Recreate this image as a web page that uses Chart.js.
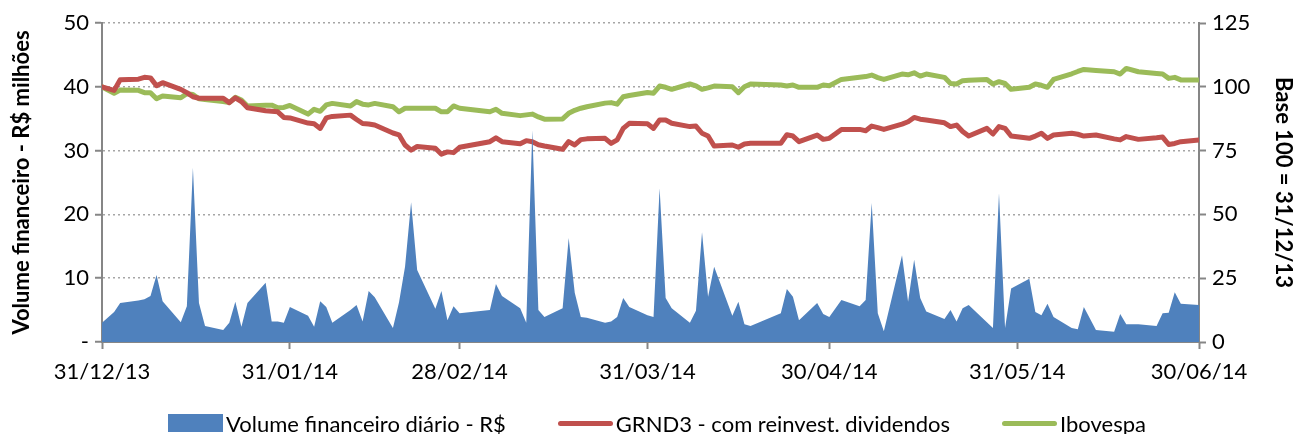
<!DOCTYPE html>
<html>
<head>
<meta charset="utf-8">
<script src="https://cdn.jsdelivr.net/npm/chart.js@4.4.1/dist/chart.umd.min.js"></script>
<style>
  html, body { margin: 0; padding: 0; background: #fff; }
  #wrap { position: relative; width: 1296px; height: 434px; }
  #legend {
    position: absolute; left: 0; top: 410px; width: 1296px; height: 26px;
    display: flex; justify-content: center; align-items: center;
    padding-left: 18px; box-sizing: border-box;
    font-family: Lato, sans-serif; font-size: 22px; color: #000;
  }
  .legend-item { display: flex; align-items: center; margin: 0 26px; white-space: nowrap; }
  .swatch { width: 55px; margin-right: 3px; }
  .swatch.area { height: 18px; }
  .swatch.line { height: 5px; border-radius: 3px; }
</style>
</head>
<body>
<div id="wrap">
  <canvas id="chart" width="1296" height="434"></canvas>
  <div id="legend"></div>
</div>
<script>
// trading sessions, 31/12/13 base day included
const tradingDays = [
  "2013-12-31",
  "2014-01-02", "2014-01-03", "2014-01-06", "2014-01-07", "2014-01-08", "2014-01-09", "2014-01-10",
  "2014-01-13", "2014-01-14", "2014-01-15", "2014-01-16", "2014-01-17", "2014-01-20", "2014-01-21",
  "2014-01-22", "2014-01-23", "2014-01-24", "2014-01-27", "2014-01-28", "2014-01-29", "2014-01-30", "2014-01-31",
  "2014-02-03", "2014-02-04", "2014-02-05", "2014-02-06", "2014-02-07", "2014-02-10", "2014-02-11",
  "2014-02-12", "2014-02-13", "2014-02-14", "2014-02-17", "2014-02-18", "2014-02-19", "2014-02-20",
  "2014-02-21", "2014-02-24", "2014-02-25", "2014-02-26", "2014-02-27", "2014-02-28",
  "2014-03-05", "2014-03-06", "2014-03-07", "2014-03-10", "2014-03-11", "2014-03-12", "2014-03-13",
  "2014-03-14", "2014-03-17", "2014-03-18", "2014-03-19", "2014-03-20", "2014-03-21", "2014-03-24",
  "2014-03-25", "2014-03-26", "2014-03-27", "2014-03-28", "2014-03-31",
  "2014-04-01", "2014-04-02", "2014-04-03", "2014-04-04", "2014-04-07", "2014-04-08", "2014-04-09",
  "2014-04-10", "2014-04-11", "2014-04-14", "2014-04-15", "2014-04-16", "2014-04-17", "2014-04-22",
  "2014-04-23", "2014-04-24", "2014-04-25", "2014-04-28", "2014-04-29", "2014-04-30",
  "2014-05-02", "2014-05-05", "2014-05-06", "2014-05-07", "2014-05-08", "2014-05-09", "2014-05-12",
  "2014-05-13", "2014-05-14", "2014-05-15", "2014-05-16", "2014-05-19", "2014-05-20", "2014-05-21",
  "2014-05-22", "2014-05-23", "2014-05-26", "2014-05-27", "2014-05-28", "2014-05-29", "2014-05-30",
  "2014-06-02", "2014-06-03", "2014-06-04", "2014-06-05", "2014-06-06", "2014-06-09", "2014-06-10",
  "2014-06-11", "2014-06-13", "2014-06-16", "2014-06-17", "2014-06-18", "2014-06-20", "2014-06-23",
  "2014-06-24", "2014-06-25", "2014-06-26", "2014-06-27", "2014-06-30"
];

// R$ milhões
const volume = [
  3.0,
  4.7, 6.1, 6.5, 6.7, 7.2, 10.5, 6.4, 3.1, 5.6, 27.3, 6.1, 2.5, 1.9, 3.0, 6.3, 2.4, 6.1, 9.3, 3.2, 3.2, 3.0, 5.5,
  4.1, 2.4, 6.4, 5.5, 3.0, 5.0, 5.8, 3.2, 8.0, 7.0, 2.2, 6.2, 11.8, 21.9, 11.3, 5.2, 8.0, 3.4, 5.6, 4.5,
  5.0, 9.1, 7.2, 5.3, 3.0, 33.2, 5.0, 3.9, 5.3, 16.3, 7.7, 3.9, 3.8, 3.0, 3.2, 3.9, 6.9, 5.5, 4.2,
  3.9, 24.1, 6.9, 5.3, 3.0, 4.9, 17.2, 7.1, 11.8, 4.1, 6.3, 2.8, 2.5, 4.5, 8.3, 7.1, 3.4, 6.1, 4.4, 3.9,
  6.6, 5.6, 6.6, 21.8, 4.5, 1.7, 13.6, 6.3, 12.9, 6.9, 4.8, 3.6, 5.0, 3.2, 5.3, 5.8, 3.1, 2.2, 23.3, 2.2, 8.4,
  9.9, 4.7, 4.2, 6.0, 3.9, 2.2, 2.0, 5.5, 1.9, 1.6, 4.4, 2.8, 2.8, 2.5, 4.5, 4.6, 7.8, 6.0, 5.8
];

// base 100 = 31/12/13
const grnd3 = [
  100,
  98.6, 102.8, 103.0, 103.7, 103.5, 100.4, 101.6, 99.0, 97.7, 96.1, 95.5, 95.5, 95.5, 93.8, 95.7, 94.2, 91.8, 90.6, 90.4, 90.2, 88.0, 87.8,
  85.8, 85.5, 83.7, 87.8, 88.4, 88.9, 87.2, 85.6, 85.4, 85.0, 81.9, 81.2, 77.2, 75.2, 76.6, 75.9, 73.6, 74.5, 74.2, 76.3,
  78.5, 80.0, 78.5, 77.7, 78.9, 78.5, 77.3, 76.8, 75.5, 78.5, 77.2, 79.3, 79.6, 79.8, 77.8, 79.2, 83.7, 85.7, 85.5,
  83.7, 87.0, 87.0, 85.7, 84.4, 84.6, 81.8, 80.7, 76.8, 77.2, 76.3, 77.6, 77.9, 77.9, 81.2, 80.7, 78.5, 81.1, 79.4, 79.8,
  83.3, 83.3, 82.8, 84.6, 84.0, 83.3, 85.4, 86.3, 88.0, 87.3, 87.0, 85.9, 84.4, 85.0, 82.5, 80.7, 83.7, 81.5, 84.4, 83.7, 80.7,
  79.8, 80.7, 81.8, 79.8, 81.1, 81.8, 81.4, 80.7, 81.1, 79.6, 79.2, 80.5, 79.4, 80.0, 80.3, 77.4, 77.8, 78.5, 79.2
];

const ibovespa = [
  100,
  97.5, 98.7, 98.6, 97.7, 97.7, 95.3, 96.4, 95.7, 97.3, 97.0, 95.3, 95.0, 94.2, 93.8, 95.9, 94.8, 92.5, 92.8, 92.8, 91.8, 91.9, 92.7,
  89.3, 91.2, 90.4, 92.9, 93.5, 92.5, 94.2, 93.2, 92.9, 93.5, 92.2, 90.2, 91.6, 91.6, 91.6, 91.6, 90.2, 90.2, 92.5, 91.6,
  90.2, 91.2, 89.6, 88.7, 89.0, 89.3, 88.2, 87.3, 87.4, 89.6, 90.8, 91.6, 92.2, 93.6, 93.8, 93.2, 96.1, 96.6, 97.8,
  97.5, 100.3, 99.8, 99.0, 101.1, 100.4, 99.0, 99.6, 100.3, 100.0, 97.7, 100.0, 101.1, 100.7, 100.3, 100.7, 99.8, 99.8, 100.7, 100.4,
  102.9, 103.7, 104.0, 104.6, 103.6, 102.9, 105.0, 104.7, 105.5, 104.2, 105.0, 103.7, 101.3, 101.1, 102.4, 102.6, 102.9, 101.1, 102.0, 101.3, 99.0,
  99.8, 101.1, 100.6, 99.8, 102.9, 105.1, 106.0, 106.8, 106.4, 105.9, 105.0, 107.2, 105.9, 105.2, 105.0, 103.3, 103.7, 102.7, 102.7
];

const tickDates = ["2013-12-31", "2014-01-31", "2014-02-28", "2014-03-31", "2014-04-30", "2014-05-31", "2014-06-30"];
const tickLabels = ["31/12/13", "31/01/14", "28/02/14", "31/03/14", "30/04/14", "31/05/14", "30/06/14"];

// x axis runs in days counted from 31/12/13
const base = Date.UTC(2013, 11, 31);
const dayOf = d => (Date.parse(d) - base) / 86400000;
const days = tradingDays.map(dayOf);
const tickDays = tickDates.map(dayOf);
const points = vals => vals.map((v, i) => ({ x: days[i], y: v }));

const axisColor = "#868686";
const tickFont = { family: "Lato", size: 22 };
const titleFont = { family: "Lato", size: 22, weight: "bold" };

Chart.defaults.font.family = "Lato";
Chart.defaults.color = "#000";

const chart = new Chart(document.getElementById("chart"), {
    type: "line",
    data: {
        datasets: [
            {
                label: "Volume financeiro diário - R$",
                data: points(volume),
                yAxisID: "y",
                fill: "origin",
                backgroundColor: "#4F81BD",
                borderColor: "#4F81BD",
                borderWidth: 0,
                pointRadius: 0,
                tension: 0,
            },
            {
                label: "GRND3 - com reinvest. dividendos",
                data: points(grnd3),
                yAxisID: "y1",
                borderColor: "#C0504D",
                borderWidth: 5,
                borderCapStyle: "round",
                borderJoinStyle: "round",
                pointRadius: 0,
                tension: 0,
                fill: false,
            },
            {
                label: "Ibovespa",
                data: points(ibovespa),
                yAxisID: "y1",
                borderColor: "#9BBB59",
                borderWidth: 5,
                borderCapStyle: "round",
                borderJoinStyle: "round",
                pointRadius: 0,
                tension: 0,
                fill: false,
            },
        ],
    },
    options: {
        responsive: false,
        animation: false,
        layout: { padding: { left: 0, right: 0, top: 23, bottom: 42 } },
        plugins: {
            tooltip: { enabled: false },
            legend: { display: false },
        },
        scales: {
            x: {
                type: "linear",
                min: 0,
                max: 181,
                afterBuildTicks: (s) => { s.ticks = tickDays.map(v => ({ value: v })); },
                afterFit: (s) => { s.height = 50; },
                ticks: {
                    autoSkip: false,
                    maxRotation: 0,
                    padding: 10,
                    font: tickFont,
                    color: "#000",
                    callback: (v) => tickLabels[tickDays.indexOf(v)],
                },
                grid: { drawOnChartArea: false, tickLength: 7, tickColor: axisColor, tickWidth: 2 },
                border: { color: axisColor, width: 2 },
            },
            y: {
                position: "left",
                min: 0,
                max: 50,
                afterFit: (s) => { s.width = 102; },
                ticks: {
                    stepSize: 10,
                    padding: 6,
                    font: tickFont,
                    color: "#000",
                    callback: (v) => (v === 0 ? "-" : v),
                },
                grid: { color: "#A6A6A6", lineWidth: 1.5, tickLength: 7, tickColor: axisColor, tickWidth: 2, tickBorderDash: [] },
                border: { color: axisColor, width: 2, dash: [2, 3] },
                title: {
                    display: true,
                    text: "Volume financeiro - R$ milhões",
                    font: titleFont,
                    color: "#000",
                    padding: { top: 9, bottom: 0 },
                },
            },
            y1: {
                position: "right",
                min: 0,
                max: 125,
                afterFit: (s) => { s.width = 97; },
                ticks: { stepSize: 25, padding: 6, font: tickFont, color: "#000" },
                grid: { drawOnChartArea: false, tickLength: 7, tickColor: axisColor, tickWidth: 2 },
                border: { color: axisColor, width: 2 },
                title: {
                    display: true,
                    text: "Base 100 = 31/12/13",
                    font: titleFont,
                    color: "#000",
                    padding: { top: 0, bottom: 0 },
                },
            },
        },
    },
});

// legend built from the datasets, under the canvas
const legend = document.getElementById("legend");
chart.data.datasets.forEach((ds) => {
    let item = document.createElement("div");
    item.className = "legend-item";

    let swatch = document.createElement("span");
    swatch.className = ds.fill === "origin" ? "swatch area" : "swatch line";
    swatch.style.backgroundColor = ds.fill === "origin" ? ds.backgroundColor : ds.borderColor;

    let text = document.createElement("span");
    text.innerHTML = ds.label;

    item.appendChild(swatch);
    item.appendChild(text);
    legend.appendChild(item);
});
</script>
</body>
</html>
